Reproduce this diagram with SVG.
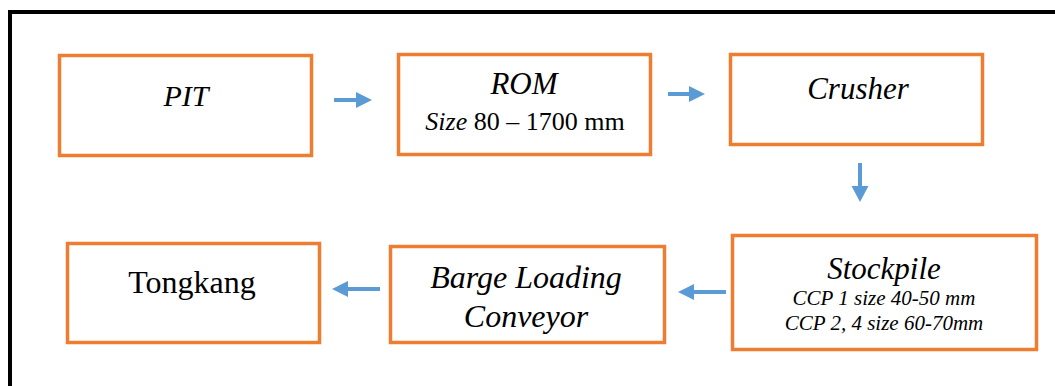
<svg xmlns="http://www.w3.org/2000/svg" width="1055" height="386" viewBox="0 0 1055 386">
  <style>
    .box { fill: #ffffff; stroke: #ED7D31; stroke-width: 3.5; }
    text { fill: #000000; text-anchor: middle; font-family: "Liberation Serif", "Tinos", "Times New Roman", "DejaVu Serif", "Noto Serif", serif; }
    .i { font-style: italic; }
    .arrow { fill: #5B9BD5; }
  </style>
  <rect width="1055" height="386" fill="#ffffff"/>
  <!-- outer frame -->
  <rect x="10" y="12" width="1100" height="420" fill="none" stroke="#000000" stroke-width="4"/>

  <g id="pit">
    <rect class="box" x="59.5" y="55.5" width="252" height="100"/>
    <text class="i" x="186" y="106" font-size="30">PIT</text>
  </g>
  <g id="rom">
    <rect class="box" x="398.5" y="54.5" width="252" height="100"/>
    <text class="i" x="524" y="94" font-size="31">ROM</text>
    <text x="525" y="130" font-size="26"><tspan class="i">Size</tspan> 80 – 1700 mm</text>
  </g>
  <g id="crusher">
    <rect class="box" x="730.5" y="54.5" width="252" height="90"/>
    <text class="i" x="858" y="99" font-size="31">Crusher</text>
  </g>
  <g id="stockpile">
    <rect class="box" x="732.5" y="235.5" width="304" height="114"/>
    <text class="i" x="884" y="279" font-size="31">Stockpile</text>
    <text class="i" x="884" y="305" font-size="21">CCP 1 size 40-50 mm</text>
    <text class="i" x="884" y="330" font-size="21">CCP 2, 4 size 60-70mm</text>
  </g>
  <g id="barge">
    <rect class="box" x="390.5" y="246.5" width="274" height="96"/>
    <text class="i" x="526" y="288" font-size="32">Barge Loading</text>
    <text class="i" x="526" y="327" font-size="32">Conveyor</text>
  </g>
  <g id="tongkang">
    <rect class="box" x="67.5" y="243.5" width="252" height="99"/>
    <text x="192" y="293" font-size="32">Tongkang</text>
  </g>

  <g id="connectors">
    <!-- PIT to ROM -->
    <path class="arrow" d="M334 98 H356 V92 L372 100 L356 108 V102 H334 Z"/>
    <!-- ROM to Crusher -->
    <path class="arrow" d="M668 92 H689 V86 L705 94 L689 102 V96 H668 Z"/>
    <!-- Crusher to Stockpile -->
    <path class="arrow" d="M858 163 H862 V186 H868.5 L860 202 L851.5 186 H858 Z"/>
    <!-- Stockpile to Barge Loading -->
    <path class="arrow" d="M726 290 H694 V284 L678 292 L694 300 V294 H726 Z"/>
    <!-- Barge Loading to Tongkang -->
    <path class="arrow" d="M380 287 H348 V281 L332 289 L348 297 V291 H380 Z"/>
  </g>
</svg>
